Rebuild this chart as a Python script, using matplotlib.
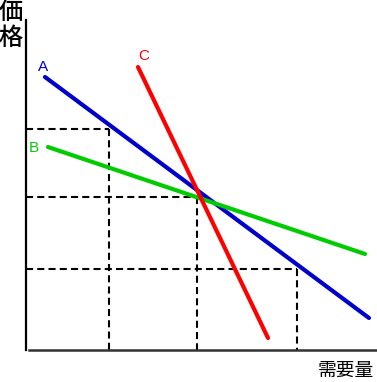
import matplotlib.pyplot as plt

plt.rcParams['font.family'] = ['Liberation Sans', 'Noto Sans CJK JP', 'DejaVu Sans']

# Demand curves (quantity, price) endpoints
curve_names = ['A', 'B', 'C']
curve_q = [[19, 343], [22, 339], [112, 242]]
curve_p = [[273, 32], [203, 96], [283, 12]]
curve_colors = ['#0000cc', '#00cc00', '#ff0000']

# Reference price/quantity pairs for the dashed guide lines
guide_q = [83, 171, 271]
guide_p = [221, 153, 81]


def generate_chart():
    fig = plt.figure(figsize=(3.77, 3.82), dpi=100)
    ax = fig.add_axes([0, 0, 1, 1])
    ax.set_xlim(-26, 351)
    ax.set_ylim(-32, 350)

    # Dashed guides
    for q, p in zip(guide_q, guide_p):
        ax.plot([0, q], [p, p], color='black', lw=1.5, linestyle=(0, (3.4, 2)))
        ax.plot([q, q], [p, 0], color='black', lw=1.5, linestyle=(0, (3.4, 2)))

    # Demand curves
    for name, q, p, c in zip(curve_names, curve_q, curve_p, curve_colors):
        ax.plot(q, p, color=c, lw=3, solid_capstyle='round')

    ax.text(17, 283, 'A', color=curve_colors[0], fontsize=11, ha='center', va='center')
    ax.text(8, 202, 'B', color=curve_colors[1], fontsize=11, ha='center', va='center')
    ax.text(118, 294, 'C', color=curve_colors[2], fontsize=11, ha='center', va='center')

    # Axes
    for s in ['top', 'right']:
        ax.spines[s].set_visible(False)
    ax.spines['left'].set_position(('data', 0))
    ax.spines['bottom'].set_position(('data', 0))
    ax.spines['left'].set_bounds(0, 330)
    ax.spines['bottom'].set_bounds(3, 351)
    ax.spines['left'].set_linewidth(1.6)
    ax.spines['bottom'].set_linewidth(1.8)
    ax.spines['bottom'].set_color('#333333')
    ax.set_xticks([])
    ax.set_yticks([])

    fig.text(11 / 377, 1 - 25 / 382, '価\n格', fontsize=17.5, ha='center', va='center',
             linespacing=1.0, fontweight='medium', family=['Noto Sans CJK JP'])
    fig.text(346 / 377, 1 - 370 / 382, '需要量', fontsize=13.5, ha='center', va='center',
             family=['Noto Sans CJK JP'])

    fig.savefig('out.png', dpi=100)


if __name__ == "__main__":
    generate_chart()
